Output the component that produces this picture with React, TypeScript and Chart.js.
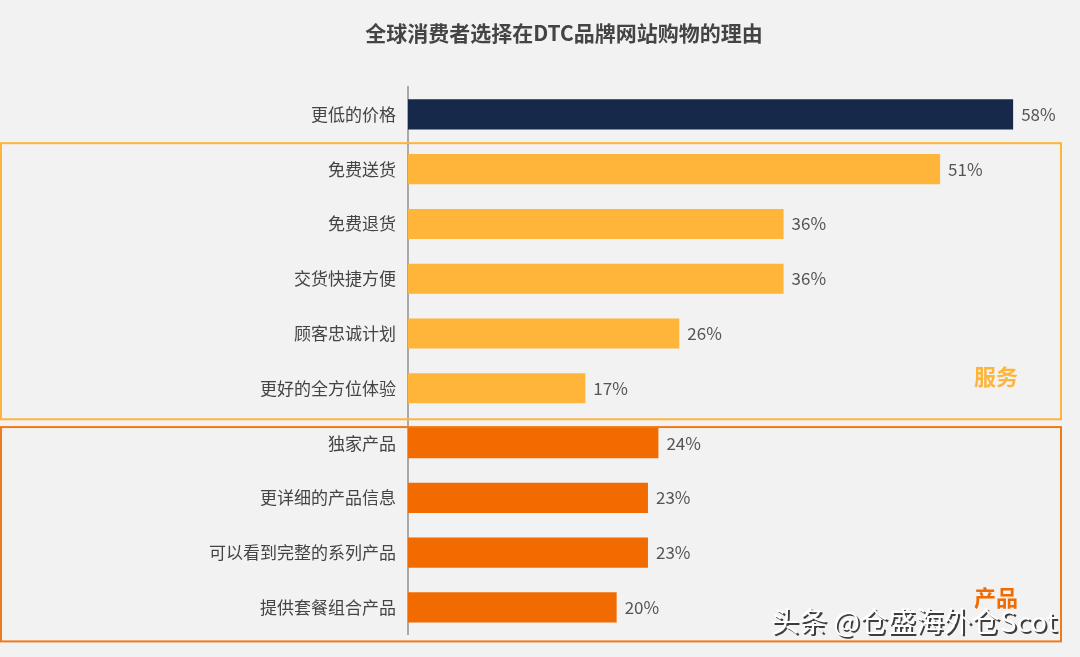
import React, { useEffect, useRef } from "react";
import { Chart, registerables } from "chart.js";

Chart.register(...registerables);

const TITLE = "全球消费者选择在DTC品牌网站购物的理由";
const categories = [
  "更低的价格",
  "免费送货",
  "免费退货",
  "交货快捷方便",
  "顾客忠诚计划",
  "更好的全方位体验",
  "独家产品",
  "更详细的产品信息",
  "可以看到完整的系列产品",
  "提供套餐组合产品",
];
const values = [58, 51, 36, 36, 26, 17, 24, 23, 23, 20];
const groups = ["price", "service", "service", "service", "service", "service", "product", "product", "product", "product"];
const groupLabels = { service: "服务", product: "产品" };
const WATERMARK = "头条 @仓盛海外仓Scot";

const NAVY = "#17294b";
const YELLOW = "#ffb43a";
const ORANGE = "#f26b00";
const FONT = "'Noto Sans CJK SC', 'Noto Sans', sans-serif";

export default function App() {
  const ref = useRef<HTMLCanvasElement>(null);
  useEffect(() => {
    const canvas = ref.current!;
    const colors = groups.map((g) => (g === "price" ? NAVY : g === "service" ? YELLOW : ORANGE));

    const overlay = {
      id: "overlay",
      beforeDatasetsDraw(chart: any) {
        const { ctx } = chart;
        const y = chart.scales.y;
        ctx.save();
        // title
        ctx.font = `bold 21px ${FONT}`;
        ctx.fillStyle = "#444444";
        ctx.textAlign = "center";
        ctx.textBaseline = "middle";
        ctx.fillText(TITLE, 564, 33);
        ctx.lineWidth = 2;
        // service box
        ctx.strokeStyle = YELLOW;
        const sTop = y.getPixelForValue(1) - 26;
        const sBot = y.getPixelForValue(5) + 31;
        ctx.strokeRect(1, sTop, 1060, sBot - sTop);
        // product box
        ctx.strokeStyle = "#f07a1a";
        const pTop = y.getPixelForValue(6) - 16;
        const pBot = y.getPixelForValue(9) + 34;
        ctx.strokeRect(1, pTop, 1060, pBot - pTop);
        ctx.restore();
      },
      afterDatasetsDraw(chart: any) {
        const { ctx } = chart;
        const y = chart.scales.y;
        const meta = chart.getDatasetMeta(0);
        ctx.save();
        ctx.font = `17px ${FONT}`;
        ctx.fillStyle = "#555555";
        ctx.textAlign = "left";
        ctx.textBaseline = "middle";
        meta.data.forEach((bar: any, i: number) => {
          ctx.fillText(values[i] + "%", bar.x + 8, bar.y);
        });
        // group labels
        ctx.font = `bold 22px ${FONT}`;
        ctx.textAlign = "center";
        ctx.fillStyle = YELLOW;
        ctx.fillText(groupLabels.service, 996, y.getPixelForValue(5) - 12);
        ctx.fillStyle = ORANGE;
        ctx.fillText(groupLabels.product, 996, y.getPixelForValue(9) - 10);
        // watermark
        ctx.font = `28px ${FONT}`;
        ctx.textAlign = "left";
        ctx.fillStyle = "rgba(0,0,0,0.75)";
        ctx.fillText(WATERMARK, 773, 623);
        ctx.fillStyle = "#ffffff";
        ctx.fillText(WATERMARK, 771, 621);
        ctx.restore();
      },
    };

    const chart = new Chart(canvas, {
      type: "bar",
      data: {
        labels: categories,
        datasets: [
          {
            data: values,
            backgroundColor: colors,
            categoryPercentage: 1,
            barPercentage: 0.55,
          },
        ],
      },
      options: {
        indexAxis: "y",
        animation: false,
        responsive: false,
        maintainAspectRatio: false,
        layout: { padding: { left: 0, right: 46, top: 87, bottom: 21 } },
        plugins: {
          legend: { display: false },
          tooltip: { enabled: false },
          title: { display: false },
        },
        scales: {
          x: {
            min: 0,
            max: 60,
            display: false,
          },
          y: {
            grid: { display: false, drawTicks: false },
            border: { display: true, color: "#aaaaaa", width: 2 },
            ticks: {
              color: "#444444",
              font: { family: FONT, size: 17 },
              padding: 12,
            },
            afterFit(scale: any) {
              scale.width = 408;
            },
          },
        },
      },
      plugins: [overlay],
    });
    return () => chart.destroy();
  }, []);

  return (
    <div style={{ position: "fixed", left: 0, top: 0, width: 1080, height: 657, background: "#f2f2f2" }}>
      <canvas ref={ref} width={1080} height={657} style={{ display: "block" }} />
    </div>
  );
}
